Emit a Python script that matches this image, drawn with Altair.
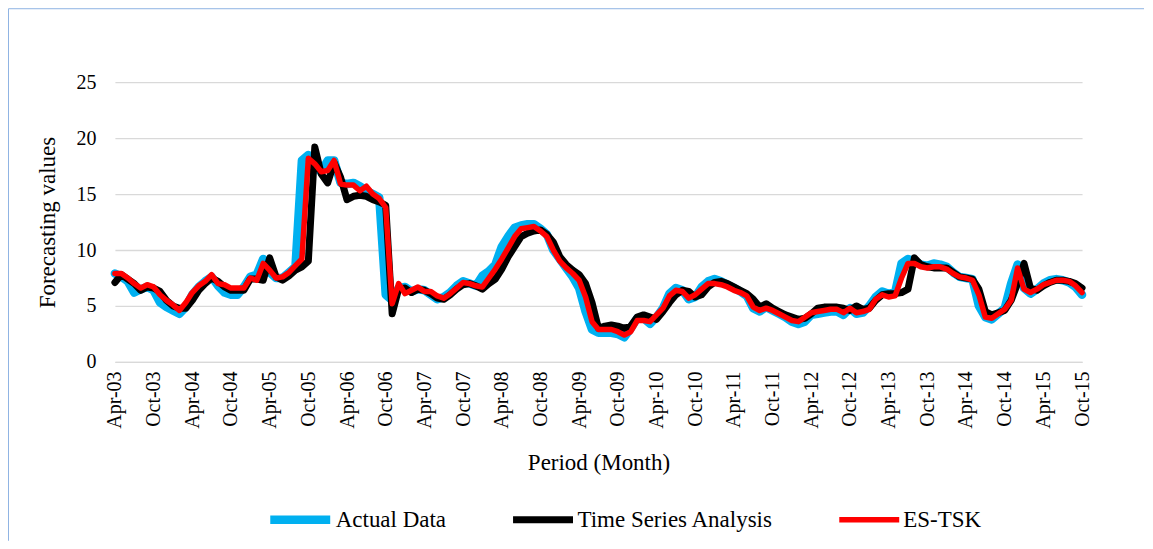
import altair as alt
import pandas as pd

# ---- data -------------------------------------------------------------
months = [d.strftime("%b-%y") for d in pd.date_range("2003-04-01", "2015-10-01", freq="MS")]

tick_labels = ["Apr-03", "Oct-03", "Apr-04", "Oct-04", "Apr-05", "Oct-05", "Apr-06",
               "Oct-06", "Apr-07", "Oct-07", "Apr-08", "Oct-08", "Apr-09", "Oct-09",
               "Apr-10", "Oct-10", "Apr-11", "Oct-11", "Apr-12", "Oct-12", "Apr-13",
               "Oct-13", "Apr-14", "Oct-14", "Apr-15", "Oct-15"]

series_names = ["Actual Data", "Time Series Analysis", "ES-TSK"]

actual = [
    7.9, 7.6, 7.2, 6.2, 6.5, 6.7, 6.4, 5.3, 4.9, 4.6,
    4.3, 4.9, 6.0, 6.7, 7.2, 7.6, 6.8, 6.2, 6.0, 6.0,
    6.7, 7.6, 7.8, 9.2, 8.0, 7.5, 7.5, 8.0, 8.5, 18.0,
    18.5, 17.4, 17.0, 18.0, 18.0, 16.0, 15.9, 16.0, 15.7, 15.3,
    15.0, 14.7, 6.0, 5.5, 6.6, 6.7, 6.3, 6.5, 6.4, 6.0,
    5.6, 5.8, 6.2, 6.8, 7.2, 7.0, 6.8, 7.7, 8.1, 8.7,
    10.3, 11.2, 12.0, 12.2, 12.3, 12.3, 11.9, 11.4, 10.0, 9.2,
    8.4, 7.6, 6.6, 4.5, 2.9, 2.6, 2.6, 2.6, 2.5, 2.2,
    3.0, 3.9, 3.9, 3.4, 4.0, 4.8, 6.1, 6.6, 6.4, 5.6,
    5.8, 6.7, 7.2, 7.4, 7.2, 6.9, 6.6, 6.3, 5.9, 4.8,
    4.5, 4.9, 4.6, 4.3, 4.0, 3.6, 3.4, 3.6, 4.2, 4.3,
    4.4, 4.5, 4.5, 4.2, 4.8, 4.3, 4.4, 5.0, 5.8, 6.3,
    6.1, 6.2, 8.8, 9.2, 9.0, 8.7, 8.6, 8.8, 8.7, 8.5,
    8.0, 7.6, 7.5, 7.4, 5.0, 4.0, 3.8, 4.3, 4.8, 7.0,
    8.7, 6.6, 6.1, 6.5, 7.0, 7.3, 7.4, 7.3, 7.1, 6.7,
    6.0,
]

time_series = [
    7.1, 7.8, 7.4, 7.0, 6.4, 6.7, 6.6, 6.3, 5.5, 5.0,
    4.8, 4.8, 5.5, 6.4, 7.0, 7.5, 7.2, 6.7, 6.4, 6.4,
    6.4, 7.4, 7.4, 7.3, 9.3, 7.6, 7.3, 7.7, 8.2, 8.5,
    9.0, 19.2, 16.8, 16.0, 17.8, 16.5, 14.5, 14.8, 14.9, 14.8,
    14.5, 14.3, 14.0, 4.3, 6.5, 6.6, 6.2, 6.5, 6.4, 6.1,
    5.7, 5.6, 6.0, 6.5, 6.9, 7.0, 6.8, 6.5, 7.0, 7.4,
    8.3, 9.4, 10.3, 11.2, 11.5, 11.7, 11.8, 11.4, 10.7, 9.4,
    8.7, 8.2, 7.8, 7.0, 5.3, 3.0, 3.2, 3.3, 3.2, 3.0,
    3.2, 4.0, 4.2, 4.0, 3.8, 4.5, 5.3, 6.0, 6.4, 6.3,
    5.8, 6.0, 6.7, 7.1, 7.2, 7.0, 6.7, 6.4, 6.1, 5.6,
    4.9, 5.2, 4.8, 4.5, 4.2, 4.0, 3.8, 3.9, 4.3, 4.8,
    4.9, 4.9, 4.9, 4.8, 4.6, 5.0, 4.7, 4.8, 5.5, 6.0,
    6.1, 6.1, 6.2, 6.5, 9.3, 8.7, 8.5, 8.4, 8.4, 8.4,
    8.0, 7.6, 7.5, 7.4, 6.5, 4.5, 4.2, 4.4, 4.6, 5.5,
    7.0, 8.8, 6.6, 6.4, 6.8, 7.1, 7.3, 7.3, 7.2, 7.0,
    6.6,
]

es_tsk = [
    7.9, 7.9, 7.5, 7.0, 6.6, 6.9, 6.7, 6.0, 5.5, 5.1,
    4.6, 5.3, 6.2, 6.8, 7.2, 7.8, 7.0, 6.9, 6.6, 6.6,
    6.6, 7.5, 7.3, 8.8, 8.2, 7.5, 7.6, 8.0, 8.6, 9.2,
    18.2, 17.7, 17.0, 17.1, 18.0, 15.9, 15.8, 15.8, 15.3, 15.7,
    15.0, 14.6, 13.8, 5.2, 7.0, 6.1, 6.4, 6.7, 6.3, 6.3,
    5.9, 5.7, 6.1, 6.6, 7.1, 7.0, 6.8, 6.7, 7.5, 8.3,
    9.2, 10.2, 11.2, 11.9, 12.0, 12.1, 11.7, 11.2, 10.0, 9.0,
    8.4, 7.9, 7.3, 5.8, 3.6, 2.9, 2.9, 2.9, 2.7, 2.4,
    2.7, 3.7, 3.7, 3.6, 4.2, 4.8, 5.9, 6.4, 6.3, 5.7,
    6.0, 6.5, 7.0, 7.0, 6.9, 6.7, 6.4, 6.2, 5.9, 4.9,
    4.6, 4.8, 4.6, 4.3, 4.0, 3.7, 3.6, 4.0, 4.4, 4.5,
    4.6, 4.7, 4.7, 4.4, 4.8, 4.4, 4.5, 4.7, 5.6, 6.0,
    5.8, 5.9, 7.5, 8.8, 8.8, 8.5, 8.4, 8.5, 8.5, 8.3,
    7.9, 7.6, 7.5, 7.3, 6.0, 4.0, 3.9, 4.3, 4.7, 5.5,
    8.4, 6.5, 6.2, 6.5, 6.9, 7.1, 7.3, 7.3, 7.2, 6.8,
    6.2,
]

colors = ["#00B0F0", "#000000", "#FF0000"]
widths = [8.5, 5.5, 4.5]

# ---- long table ---------------------------------------------------------
rows = []
for name, vals in zip(series_names, [actual, time_series, es_tsk]):
    for m, v in zip(months, vals):
        rows.append({"period": m, "series": name, "value": v})
df = pd.DataFrame(rows)

FONT = "Liberation Serif"

x_enc = alt.X(
    "period:O", sort=months,
    scale=alt.Scale(type="point", padding=0),
    axis=alt.Axis(values=tick_labels, labelAngle=270, labelFontSize=20, labelFont=FONT,
                  labelColor="#000000", ticks=False, tickSize=0, labelPadding=9,
                  domainColor="#D9D9D9", domainWidth=1.3, grid=False,
                  title="Period (Month)", titleFont=FONT, titleFontSize=23,
                  titleFontWeight="normal", titleColor="#000000",
                  titleY=101, titleBaseline="middle"),
)
y_enc = alt.Y(
    "value:Q",
    scale=alt.Scale(domain=[0, 25], nice=False),
    axis=alt.Axis(values=[0, 5, 10, 15, 20, 25], labelFontSize=20, labelFont=FONT,
                  labelColor="#000000", ticks=False, tickSize=0, labelPadding=19,
                  domain=False, grid=True, gridColor="#D9D9D9", gridWidth=1.3,
                  title="Forecasting values", titleFont=FONT, titleFontSize=23,
                  titleFontWeight="normal", titleColor="#000000",
                  titleX=-67, titleBaseline="middle"),
)
color_enc = alt.Color(
    "series:N",
    scale=alt.Scale(domain=series_names, range=colors),
    legend=alt.Legend(title=None, orient="none", direction="horizontal",
                      legendX=151, legendY=426, symbolType="stroke", symbolSize=3600,
                      clipHeight=24, symbolStrokeWidth=6.5, labelFont=FONT,
                      labelFontSize=23, labelColor="#000000", labelOffset=1,
                      labelLimit=0, columnPadding=63),
)
width_enc = alt.StrokeWidth(
    "series:N",
    scale=alt.Scale(domain=series_names, range=widths),
    legend=None,
)

base = alt.Chart(df).mark_line(strokeJoin="round", strokeCap="round").encode(
    x=x_enc, y=y_enc, color=color_enc, strokeWidth=width_enc
)

layers = [base.transform_filter(alt.datum.series == n) for n in series_names]

frame_df = pd.DataFrame({"k": [0]})
frame_left = alt.Chart(frame_df).mark_rule(color="#8FB4E3", strokeWidth=1).encode(
    x=alt.value(-106.5), y=alt.value(-73.5), y2=alt.value(459)
)
frame_top = alt.Chart(frame_df).mark_rule(color="#8FB4E3", strokeWidth=1).encode(
    x=alt.value(-106.5), x2=alt.value(1030), y=alt.value(-73.5)
)

chart = alt.layer(frame_left, frame_top, *layers).properties(
    width=968, height=280, padding=0
).configure_view(stroke=None)

chart.save("out.html", embed_options={"renderer": "svg", "actions": False})
